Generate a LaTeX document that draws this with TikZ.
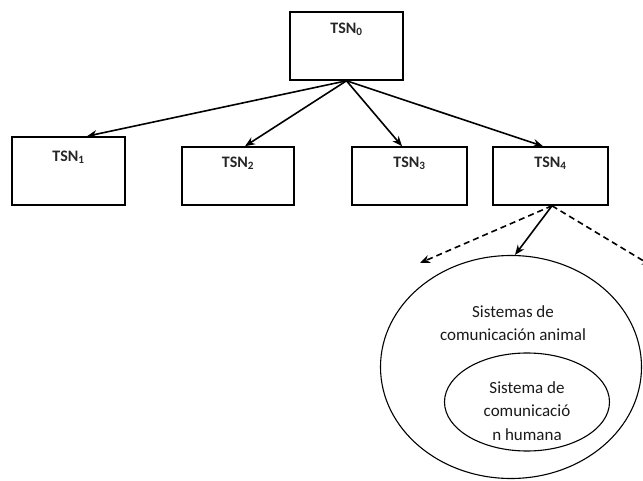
\documentclass[tikz,border=0pt]{standalone}
\usepackage{fontspec}
\setmainfont{Carlito}
\usetikzlibrary{arrows.meta,shapes.geometric}
\begin{document}
\begin{tikzpicture}[x=1pt,y=-1pt,
  box/.style={draw,line width=1.6pt,rectangle,inner sep=0pt,minimum width=113pt,minimum height=68pt},
  lbl/.style={inner sep=0pt,font=\fontsize{16}{19}\selectfont\bfseries,text=black!85},
  oval/.style={draw,line width=1.1pt,ellipse,inner sep=0pt},
  otext/.style={align=center,inner sep=0pt,font=\fontsize{17}{23.5}\selectfont,text=black!90},
  arr/.style={line width=1.6pt,-{Stealth[length=10pt,width=8pt]}},
  darr/.style={arr,dash pattern=on 6pt off 4pt}]
\useasboundingbox (0,0) rectangle (643,481);
\node[box] (t0) at (346.5,46) {};
\node[lbl] (l0) at ([yshift=-18pt]t0.north) {TSN\textsubscript{0}};
\node[box] (t1) at (68.5,171) {};
\node[lbl] (l1) at ([yshift=-21pt]t1.north) {TSN\textsubscript{1}};
\node[box,minimum width=112pt,minimum height=58pt] (t2) at (238,176) {};
\node[lbl] (l2) at ([yshift=-17pt]t2.north) {TSN\textsubscript{2}};
\node[box,minimum width=115pt,minimum height=58pt] (t3) at (409.5,176) {};
\node[lbl] (l3) at ([yshift=-17pt]t3.north) {TSN\textsubscript{3}};
\node[box,minimum width=115pt,minimum height=58pt] (t4) at (550.5,176) {};
\node[lbl] (l4) at ([yshift=-17pt]t4.north) {TSN\textsubscript{4}};
\node[oval,minimum width=261pt,minimum height=223pt] (big) at (511,367) {};
\node[otext] (bt) at (513,323) {Sistemas de\\comunicación animal};
\node[oval,minimum width=165pt,minimum height=98pt] (small) at (527,402) {};
\node[otext] (st) at (527,411) {Sistema de\\comunicació\\n humana};
\coordinate (dl) at (420,263);
\coordinate (dr) at (652,266);
\draw[arr] (t0.south) -- ([xshift=18.5pt]t1.north);
\draw[arr] (t0.south) -- ([xshift=7pt]t2.north);
\draw[arr] (t0.south) -- ([xshift=-7.5pt]t3.north);
\draw[arr] (t0.south) -- ([xshift=-7.5pt]t4.north);
\draw[arr] ([xshift=1.5pt]t4.south) -- ([xshift=4pt]big.north);
\draw[darr] ([xshift=1.5pt]t4.south) -- (dl);
\draw[darr] ([xshift=1.5pt]t4.south) -- (dr);
\end{tikzpicture}
\end{document}
